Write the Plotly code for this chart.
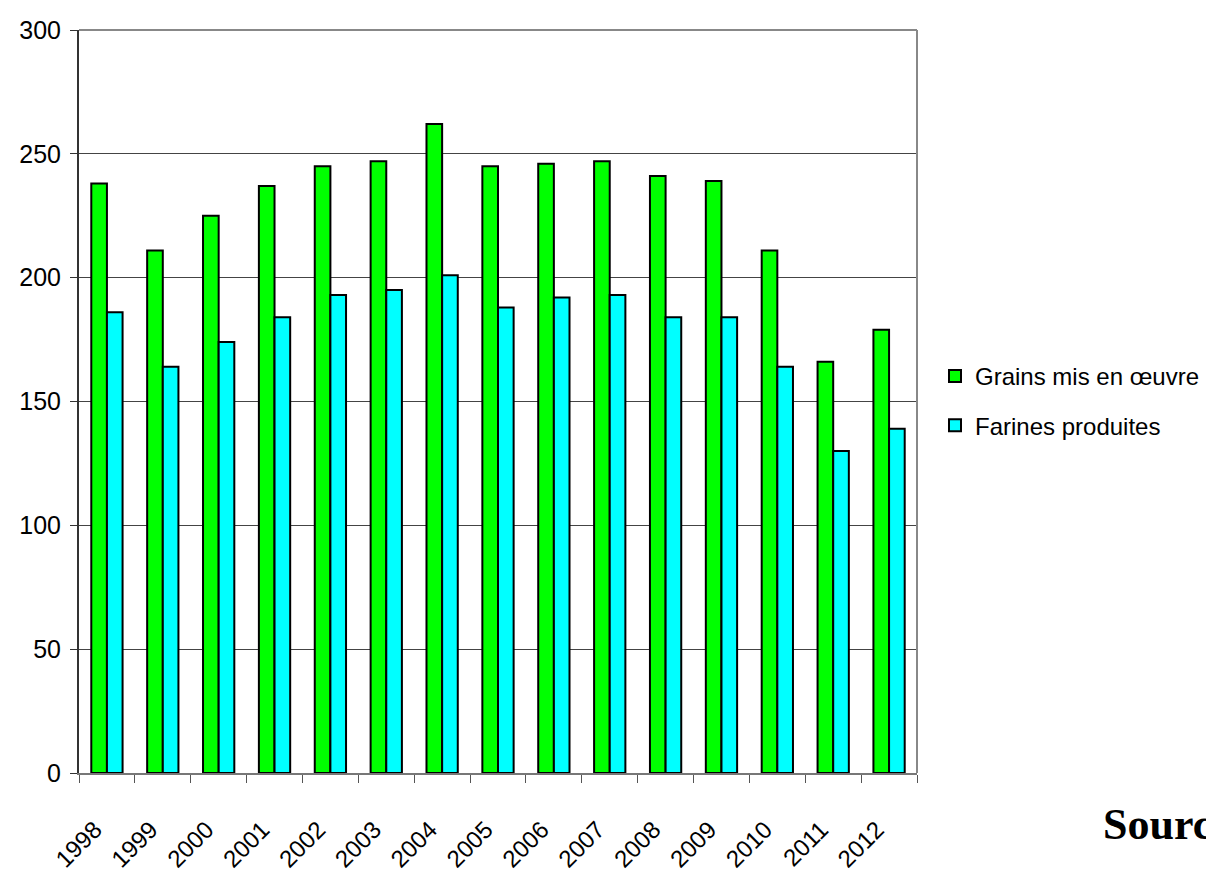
import plotly.graph_objects as go

years = ["1998", "1999", "2000", "2001", "2002", "2003", "2004", "2005",
         "2006", "2007", "2008", "2009", "2010", "2011", "2012"]
grains = [238, 211, 225, 237, 245, 247, 262, 245, 246, 247, 241, 239, 211, 166, 179]
farines = [186, 164, 174, 184, 193, 195, 201, 188, 192, 193, 184, 184, 164, 130, 139]

# page has an 8px body margin, so figure pixel = page pixel - 8
L, R, T, B = 71, 305, 22, 109
PW, PH = 1214 - L - R, 874 - T - B

fig = go.Figure()
fig.add_trace(go.Bar(x=years, y=grains, name="Grains mis en œuvre", legendgroup="g",
                     marker=dict(color="#00FF00", line=dict(color="black", width=2))))
fig.add_trace(go.Bar(x=years, y=farines, name="Farines produites", legendgroup="f",
                     marker=dict(color="#00FFFF", line=dict(color="black", width=2))))

fig.update_layout(
    width=1214, height=874,
    paper_bgcolor="white", plot_bgcolor="white",
    margin=dict(l=L, r=R, t=T, b=B, autoexpand=False),
    barmode="group", bargap=0.44, bargroupgap=0,
    font=dict(family="Liberation Sans, Arial, sans-serif", size=25, color="black"),
    showlegend=True,
    legend=dict(x=(967 - 40 - L) / PW, y=1 - (393 - T) / PH, xanchor="left", yanchor="middle",
                font=dict(size=24), tracegroupgap=15, itemsizing="constant",
                bgcolor="rgba(0,0,0,0)"),
    xaxis=dict(type="category", tickangle=-45, ticks="outside", tickson="boundaries",
               ticklen=8, tickcolor="#555", showline=True, linecolor="#777", linewidth=2,
               showgrid=False, tickfont=dict(size=24), ticklabelstandoff=31,
               ticklabelshift=-12, automargin=False),
    yaxis=dict(range=[0, 300], tickvals=[0, 50, 100, 150, 200, 250, 300],
               ticks="outside", ticklen=7, tickcolor="#333", showline=True,
               linecolor="#333", linewidth=2, showgrid=True, gridcolor="#444",
               gridwidth=1, zeroline=False, tickfont=dict(size=25), ticklabelstandoff=4,
               automargin=False),
    shapes=[
        dict(type="line", xref="paper", yref="paper", x0=0, x1=1, y0=1, y1=1,
             line=dict(color="#888", width=2)),
        dict(type="line", xref="paper", yref="paper", x0=1, x1=1, y0=0, y1=1,
             line=dict(color="#888", width=2)),
    ],
    annotations=[
        dict(text="<b>Source</b>", xref="paper", yref="paper",
             x=(1093 - L) / PW, y=-(816 - (T + PH)) / PH, xanchor="left", yanchor="middle",
             showarrow=False,
             font=dict(family="Liberation Serif, Times New Roman, serif", size=44, color="black")),
    ],
)

fig.write_html("out.html")
